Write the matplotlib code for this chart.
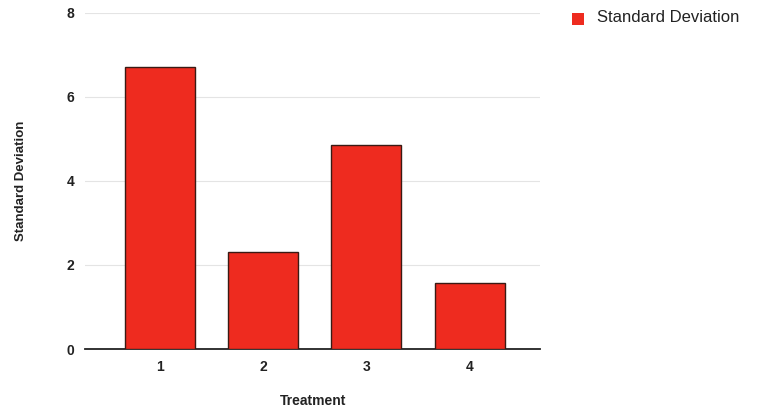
import matplotlib.pyplot as plt
from matplotlib.patches import Rectangle

plt.rcParams['font.family'] = ['Liberation Sans', 'DejaVu Sans']

treatments = [1, 2, 3, 4]
std_dev = [6.71, 2.31, 4.86, 1.57]
yticks = [0, 2, 4, 6, 8]

fig = plt.figure(figsize=(7.68, 4.15), dpi=100)
ax = fig.add_axes([0.111, 0.159, 0.592, 0.81])

ax.bar(treatments, std_dev, width=0.68, color='#ee2b1f', edgecolor='#3a1a14',
       linewidth=1.0, zorder=3, label='Standard Deviation')

ax.set_xlim(0.28, 4.68)
ax.set_ylim(0, 8)
ax.set_xticks(treatments)
ax.set_yticks(yticks)
ax.tick_params(length=0, labelsize=10, colors='#222222', pad=8)
for lbl in ax.get_xticklabels() + ax.get_yticklabels():
    lbl.set_fontweight('bold')
ax.grid(axis='y', color='#e4e4e4', linewidth=0.8, zorder=0)
for s in ['top', 'right', 'left']:
    ax.spines[s].set_visible(False)
ax.spines['bottom'].set_color('#222222')
ax.spines['bottom'].set_linewidth(1.3)

ax.set_xlabel('Treatment', fontsize=10, fontweight='bold', color='#222222', labelpad=14)
ax.set_ylabel('Standard Deviation', fontsize=9.5, fontweight='bold', color='#222222', labelpad=28)

# legend at top right
fig.patches.append(Rectangle((572 / 768, 1 - 25 / 415), 12 / 768, 12 / 415,
                             transform=fig.transFigure, facecolor='#ee2b1f',
                             edgecolor='none'))
fig.text(597 / 768, 1 - 18 / 415, 'Standard Deviation', fontsize=12,
         color='#222222', va='center', ha='left')

fig.savefig('out.png', dpi=100)
